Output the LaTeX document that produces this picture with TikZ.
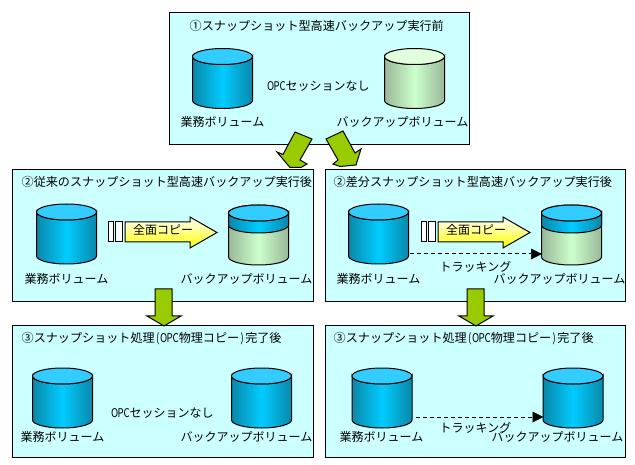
\documentclass[tikz,border=0pt]{standalone}
\usepackage{fontspec}
\setmainfont{Noto Sans CJK JP}
\usetikzlibrary{calc}
\definecolor{panelc}{HTML}{CCFFFF}
\definecolor{greenc}{HTML}{99CC00}
\definecolor{bedge}{HTML}{0A88AA}
\definecolor{bmid}{HTML}{00CCFF}
\definecolor{btop}{HTML}{33CCFF}
\definecolor{gedge}{HTML}{99B899}
\definecolor{gmid}{HTML}{CCFFCC}
\definecolor{gtop}{HTML}{E2FFDD}
\definecolor{yelc}{HTML}{FFFF00}
\definecolor{yelm}{HTML}{FFFF99}
\tikzset{
  panel/.style={draw=black,line width=1pt,fill=panelc},
  txt/.style={inner sep=0pt,anchor=west,font=\fontsize{12}{12}\selectfont,text=black},
  ttl/.style={inner sep=0pt,anchor=west,font=\fontsize{12.1}{12}\selectfont,text=black},
  cylbody/.style={draw=black,line width=1pt},
  bluebody/.style={cylbody,left color=bedge,right color=bedge,middle color=bmid,shading angle=90},
  greenbody/.style={cylbody,left color=gedge,right color=gedge,middle color=gmid,shading angle=90},
  cylbox/.style={inner sep=0pt,minimum width=60pt,minimum height=60pt},
  blockarrow/.style={draw=black,line width=1pt,fill=greenc,line join=miter},
  strip/.style={draw=black,line width=1pt,fill=white},
  copyarrow/.style={draw=black,line width=1pt,left color=white,middle color=yelm,right color=yelc,shading angle=0},
  track/.style={draw=black,line width=1pt,dash pattern=on 4pt off 3pt},
  trackhead/.style={draw=black,fill=black},
}
\newcommand{\hw}[1]{\makebox[6pt]{\scalebox{.8}[1]{#1}}}
\newcommand{\opc}{\hw{O}\hw{P}\hw{C}}
% name, left x, rim y, body style, top colour
\newcommand{\mycyl}[5]{%
  \pgfmathsetmacro{\xa}{#2}\pgfmathsetmacro{\xb}{#2+60}\pgfmathsetmacro{\ybot}{#3+44}\pgfmathsetmacro{\xc}{#2+30}\pgfmathsetmacro{\ymid}{#3+22}%
  \path[#4] (\xa,#3) -- (\xa,\ybot) arc[start angle=180,end angle=0,x radius=30,y radius=8] -- (\xb,#3) arc[start angle=0,end angle=180,x radius=30,y radius=8] -- cycle;
  \draw[cylbody,fill=#5] (\xc,#3) ellipse[x radius=30,y radius=8];
  \node[cylbox] (#1) at (\xc,\ymid) {};
}
% left x, rim y : blue band on a backup volume
\newcommand{\myband}[2]{%
  \pgfmathsetmacro{\xa}{#1}\pgfmathsetmacro{\xb}{#1+60}\pgfmathsetmacro{\ybot}{#2+12}\pgfmathsetmacro{\xc}{#1+30}%
  \path[bluebody] (\xa,#2) -- (\xa,\ybot) arc[start angle=180,end angle=0,x radius=30,y radius=8] -- (\xb,#2) arc[start angle=0,end angle=180,x radius=30,y radius=8] -- cycle;
  \draw[cylbody,fill=btop] (\xc,#2) ellipse[x radius=30,y radius=8];
}
% strip x, offset of copy arrow
\newcommand{\mycopy}[1]{%
  \begin{scope}[shift={(#1,0)}]
    \draw[strip] (108,222) rectangle (113,242);
    \draw[strip] (115,222) rectangle (122,242);
    \path[copyarrow] (125,222) -- (190,222) -- (190,217) -- (217,232.5) -- (190,248) -- (190,242) -- (125,242) -- cycle;
  \end{scope}
}
% x offset, y offset: vertical block arrow
\newcommand{\myvarrow}[2]{%
  \draw[blockarrow,shift={(#1,#2)}] (155,289) -- (172,289) -- (172,316) -- (181,316) -- (164,326) -- (147,316) -- (155,316) -- cycle;
}
\begin{document}
\begin{tikzpicture}[x=1pt,y=-1pt]
\useasboundingbox (0,0) rectangle (635,465);
\fill[white] (0,0) rectangle (635,465);
% panels
\path[panel] (169.5,12.5) rectangle (469.5,145) node[midway,inner sep=0pt] (p1) {};
\path[panel] (12.5,169.5) rectangle (313,301.5) node[midway,inner sep=0pt] (p2l) {};
\path[panel] (325.5,169.5) rectangle (625,301.5) node[midway,inner sep=0pt] (p2r) {};
\path[panel] (12.5,325.5) rectangle (313,457) node[midway,inner sep=0pt] (p3l) {};
\path[panel] (325.5,326) rectangle (625,457) node[midway,inner sep=0pt] (p3r) {};
% panel 1
\mycyl{c1a}{192.5}{56.5}{bluebody}{btop}
\mycyl{c1b}{384.5}{56.5}{greenbody}{gtop}
\node[ttl] (t1) at (189.5,26) {①スナップショット型高速バックアップ実行前};
\node[txt] (l1a) at (180.5,122) {業務ボリューム};
\node[txt] (l1b) at (336.5,122) {バックアップボリューム};
\node[txt] (o1) at (267.5,86) {\opc セッションなし};
% panel 2 left
\mycyl{c2a}{36.5}{212}{bluebody}{btop}
\mycyl{c2b}{228.5}{213}{greenbody}{gtop}
\myband{228.5}{213}
\mycopy{0}
\node[ttl] (t2l) at (21.5,182) {②従来のスナップショット型高速バックアップ実行後};
\node[txt] (l2a) at (24.5,279) {業務ボリューム};
\node[txt] (l2b) at (180.5,279) {バックアップボリューム};
\node[txt] (k2l) at (133,230) {全面コピー};
% panel 2 right
\mycyl{c3a}{348.5}{212}{bluebody}{btop}
\mycyl{c3b}{541.5}{213}{greenbody}{gtop}
\myband{541.5}{213}
\mycopy{313}
\node[ttl] (t2r) at (333.5,182) {②差分スナップショット型高速バックアップ実行後};
\node[txt] (l3a) at (336.5,279) {業務ボリューム};
\node[txt] (l3b) at (493.5,279) {バックアップボリューム};
\node[txt] (k2r) at (446,230) {全面コピー};
\coordinate (d1s) at ($(c3a.east)+(1,20)$);
\coordinate (d1e) at ($(c3b.west)+(-10,19)$);
\draw[track] (d1s) -- (d1e);
\fill[trackhead] (d1e) ++(0,-5) -- ++(10,5) -- ++(-10,5) -- cycle;
\node[txt] (tr2) at (439.5,267) {トラッキング};
% panel 3 left
\mycyl{c4a}{32.5}{376}{bluebody}{btop}
\mycyl{c4b}{231.5}{376}{bluebody}{btop}
\node[ttl] (t3l) at (21.5,339) {③スナップショット処理\hw{(}\opc 物理コピー\hw{)}完了後};
\node[txt] (l4a) at (20.5,437) {業務ボリューム};
\node[txt] (l4b) at (180.5,437) {バックアップボリューム};
\node[txt] (o3) at (111.5,413) {\opc セッションなし};
% panel 3 right
\mycyl{c5a}{352}{376}{bluebody}{btop}
\mycyl{c5b}{543}{376}{bluebody}{btop}
\node[ttl] (t3r) at (333.5,339) {③スナップショット処理\hw{(}\opc 物理コピー\hw{)}完了後};
\node[txt] (l5a) at (339.5,437) {業務ボリューム};
\node[txt] (l5b) at (491.5,437) {バックアップボリューム};
\coordinate (d2s) at ($(c5a.east)+(4,19)$);
\coordinate (d2e) at ($(c5b.west)+(-10,19)$);
\draw[track] (d2s) -- (d2e);
\fill[trackhead] (d2e) ++(0,-5) -- ++(10,5) -- ++(-10,5) -- cycle;
\node[txt] (tr3) at (439.5,428) {トラッキング};
% block arrows
\draw[blockarrow] (295,132) -- (312,139) -- (300,160) -- (307,164) -- (301,167.5) -- (290,167.5) -- (277,152) -- (283,154.5) -- cycle;
\draw[blockarrow] (343,131) -- (326,139) -- (338,160) -- (333,164) -- (340,166.5) -- (356,165) -- (361,149) -- (355,153) -- cycle;
\myvarrow{0}{0}
\myvarrow{312}{0}
\end{tikzpicture}
\end{document}
